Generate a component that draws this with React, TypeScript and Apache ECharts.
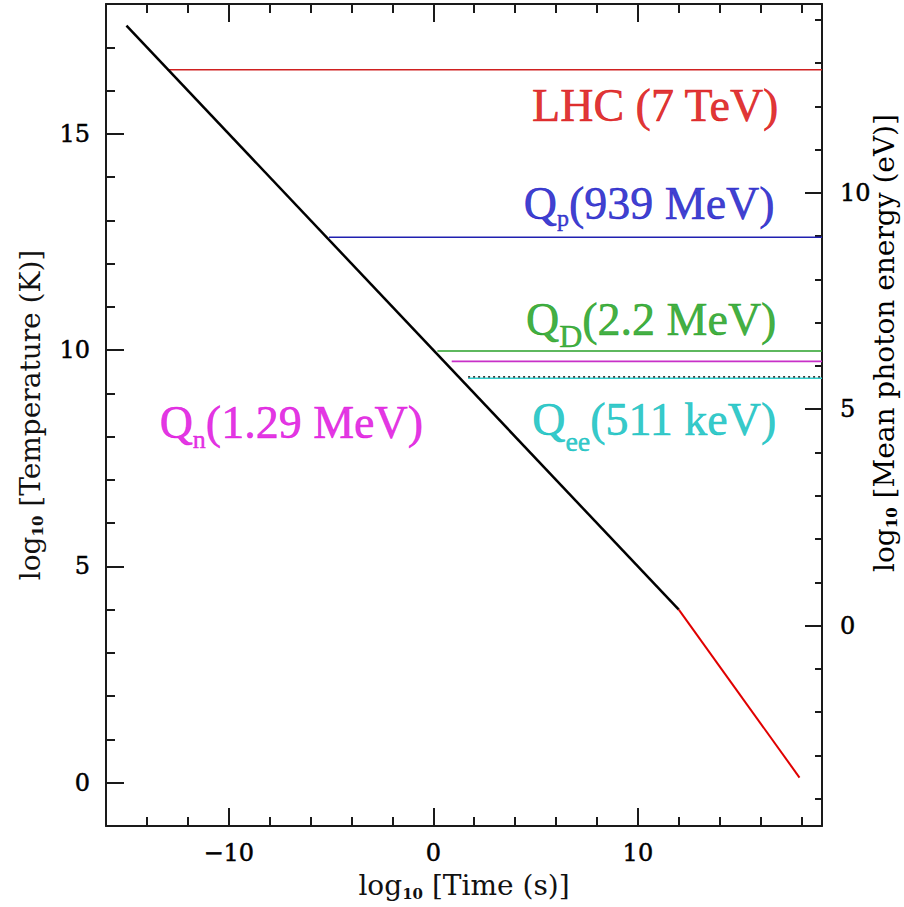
import React, { useEffect, useRef } from 'react';
import * as echarts from 'echarts';

// ---- data ----
const timeRange = [-16, 19];
const logTRange = [-1, 18];
const photonOffset = -3.633; // log10 of mean photon energy (eV) minus log10 T (K)

const radiationEra = [[-15, 17.5], [12, 4.0]];
const matterEra = [[12, 4.0], [17.9, 0.12]];

const thresholdMain = ['LHC (7 TeV)', 'Q', 'Q', 'Q', 'Q'];
const thresholdSub = ['', 'p', 'D', 'n', 'ee'];
const thresholdTail = ['', '(939 MeV)', '(2.2 MeV)', '(1.29 MeV)', '(511 keV)'];
const thresholdLogT = [16.48, 12.61, 9.98, 9.74, 9.35];
const thresholdStart = [-13.0, -5.1, 0.2, 0.9, 1.7];
const labelTime = [10.85, 10.55, 10.65, -6.94, 10.8];
const labelLogT = [15.65, 13.39, 10.7, 8.33, 8.39];

const xMajorTicks = [-10, 0, 10];
const xMinorTicks = [-14, -12, -8, -6, -4, -2, 2, 4, 6, 8, 12, 14, 16, 18];
const yMajorTicks = [0, 5, 10, 15];
const yMinorTicks = [1, 2, 3, 4, 6, 7, 8, 9, 11, 12, 13, 14, 16, 17];
const eMajorTicks = [0, 5, 10];
const eMinorTicks = [-4, -3, -2, -1, 1, 2, 3, 4, 6, 7, 8, 9, 11, 12, 13, 14];

const xTitle = '[Time (s)]';
const yTitle = '[Temperature (K)]';
const eTitle = '[Mean photon energy (eV)]';

// ---- styles ----
const textColors = ['#d80000', '#0c0cc4', '#109a10', '#dc00dc', '#00bcbc'];
const lineColors = ['#d02020', '#2020b0', '#28a028', '#c830c8', '#30cccc'];
const subSize = [0, 24, 32, 26, 28];
const subPad = [0, 30, 32, 34, 43];

const SERIF = '"Liberation Serif", "Times New Roman", serif';
const AXF = '"DejaVu Serif", serif';
const AXIS_COLOR = '#1a1a1a';

function axisName(text: string) {
  return `{a|log}{b|10}{a| ${text}}`;
}
const nameRich = {
  a: { fontFamily: AXF, fontSize: 28, color: '#111', lineHeight: 40 },
  b: { fontFamily: AXF, fontSize: 15, fontWeight: 'bold', color: '#111', lineHeight: 15, padding: [16, 0, 0, 0] },
};

export default function App() {
  const ref = useRef<HTMLDivElement>(null);
  useEffect(() => {
    if (!ref.current) return;
    const chart = echarts.init(ref.current, null, { renderer: 'svg' });

    const hiddenLine = { show: false, onZero: false };
    const baseX = {
      type: 'value',
      min: timeRange[0],
      max: timeRange[1],
      splitLine: { show: false },
      axisLine: hiddenLine,
      axisLabel: { show: false },
      axisTick: { show: false },
    };
    const baseYL = {
      type: 'value',
      min: logTRange[0],
      max: logTRange[1],
      splitLine: { show: false },
      axisLine: hiddenLine,
      axisLabel: { show: false },
      axisTick: { show: false },
    };
    const baseYR = { ...baseYL, min: logTRange[0] + photonOffset, max: logTRange[1] + photonOffset };
    const lineAx = { show: true, onZero: false, lineStyle: { color: AXIS_COLOR, width: 2 } };
    const majTick = (vals: number[], len: number) => ({
      show: true, inside: true, length: len, customValues: vals,
      lineStyle: { color: AXIS_COLOR, width: 2 },
    });
    const tickLabel = (vals: number[], margin: number) => ({
      show: true, customValues: vals, margin,
      fontFamily: AXF, fontSize: 24, color: '#000',
      textBorderColor: '#000', textBorderWidth: 0.5,
      formatter: (v: number) => String(v).replace('-', '\u2212'),
    });

    const series: any[] = [];
    series.push({
      name: 'radiation era', type: 'line', data: radiationEra, showSymbol: false,
      lineStyle: { color: '#000', width: 2.5 }, xAxisIndex: 0, yAxisIndex: 0, z: 5,
    });
    series.push({
      name: 'matter era', type: 'line', data: matterEra, showSymbol: false,
      lineStyle: { color: '#e00000', width: 2 }, xAxisIndex: 0, yAxisIndex: 0, z: 5,
    });
    thresholdLogT.forEach((v, i) => {
      series.push({
        name: 'threshold ' + i, type: 'line', showSymbol: false,
        data: [[thresholdStart[i], v], [timeRange[1], v]],
        lineStyle: { color: lineColors[i], width: 1.6 }, xAxisIndex: 0, yAxisIndex: 0,
      });
    });
    series.push({
      name: 'ee dotted', type: 'line', showSymbol: false,
      data: [[thresholdStart[4], thresholdLogT[4] + 0.03], [timeRange[1], thresholdLogT[4] + 0.03]],
      lineStyle: { color: '#000', width: 1.2, type: [2, 3] }, xAxisIndex: 0, yAxisIndex: 0, z: 4,
    });
    series.push({
      name: 'labels', type: 'scatter', symbolSize: 0, xAxisIndex: 0, yAxisIndex: 0, z: 6,
      data: labelTime.map((x, i) => {
        const c = textColors[i];
        const formatter = thresholdSub[i]
          ? `{m|${thresholdMain[i]}}{s|${thresholdSub[i]}}{m|${thresholdTail[i]}}`
          : `{m|${thresholdMain[i]}}`;
        return {
          value: [x, labelLogT[i]],
          label: {
            show: true, position: 'inside', formatter,
            rich: {
              m: { fontFamily: SERIF, fontSize: 46, color: c, lineHeight: 90, textBorderColor: c, textBorderWidth: 0.6 },
              s: {
                fontFamily: SERIF, fontSize: subSize[i] || 20, color: c, lineHeight: subSize[i] || 20,
                padding: [subPad[i], 0, 0, 0], textBorderColor: c, textBorderWidth: 0.5,
              },
            },
          },
        };
      }),
    });

    chart.setOption({
      animation: false,
      backgroundColor: '#fff',
      grid: { left: 106, right: 82, top: 4, bottom: 81, containLabel: false, outerBoundsMode: 'none' },
      xAxis: [
        {
          ...baseX, position: 'bottom', axisLine: lineAx,
          axisTick: majTick(xMajorTicks, 18), axisLabel: tickLabel(xMajorTicks, 15),
          name: axisName(xTitle), nameLocation: 'middle', nameGap: 34,
          nameTextStyle: { rich: nameRich },
        },
        { ...baseX, position: 'bottom', axisTick: majTick(xMinorTicks, 9) },
        { ...baseX, position: 'top', axisLine: lineAx, axisTick: majTick(xMajorTicks, 18) },
        { ...baseX, position: 'top', axisTick: majTick(xMinorTicks, 9) },
      ],
      yAxis: [
        {
          ...baseYL, position: 'left', axisLine: lineAx,
          axisTick: majTick(yMajorTicks, 18), axisLabel: tickLabel(yMajorTicks, 16),
          name: axisName(yTitle), nameLocation: 'middle', nameGap: 56,
          nameTextStyle: { rich: nameRich },
        },
        { ...baseYL, position: 'left', axisTick: majTick(yMinorTicks, 9) },
        {
          ...baseYR, position: 'right', axisLine: lineAx,
          axisTick: majTick(eMajorTicks, 17), axisLabel: tickLabel(eMajorTicks, 18),
        },
        { ...baseYR, position: 'right', axisTick: majTick(eMinorTicks, 7) },
      ],
      graphic: [
        {
          type: 'text', x: 884, y: 343, rotation: Math.PI / 2,
          style: { text: axisName(eTitle), rich: nameRich, align: 'center', verticalAlign: 'middle' },
        },
      ],
      series,
    });
    return () => chart.dispose();
  }, []);
  return <div ref={ref} style={{ width: 904, height: 907, position: 'absolute', left: 0, top: 0 }} />;
}
